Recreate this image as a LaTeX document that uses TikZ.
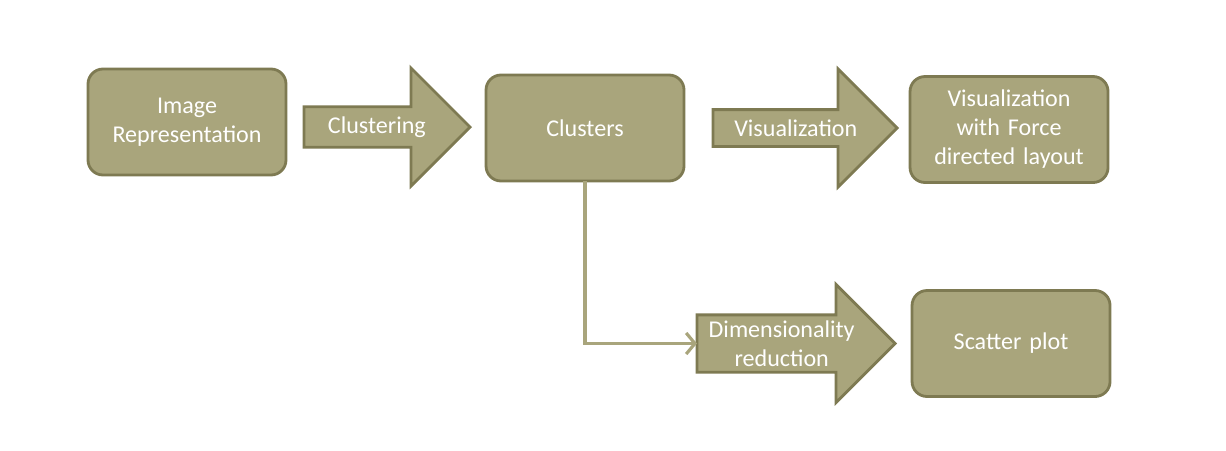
\documentclass[tikz,border=0pt]{standalone}
\usepackage{fontspec}
\setmainfont{Carlito}
\usetikzlibrary{positioning,shapes.arrows,arrows.meta}

\definecolor{olivefill}{HTML}{A9A57C}
\definecolor{oliveline}{HTML}{7E7A52}

\begin{document}
\begin{tikzpicture}[node distance = 0.36cm, auto,
  font=\fontsize{13.7}{16.5}\selectfont,
  stagebox/.style={rectangle, draw=oliveline, fill=olivefill, line width=1.6pt, outer sep=0pt, text=white, text width=3.6cm, align=center, rounded corners=0.3cm, minimum width=3.96cm, minimum height=2.12cm},
  stepper/.style={single arrow, draw=oliveline, fill=olivefill, line width=1.6pt, outer sep=0pt, text=white, align=center, single arrow head extend=0.59cm, single arrow tip angle=90, minimum width=2.36cm, inner sep=2pt}]
\useasboundingbox (0,0) rectangle (24.52,-9);

\node [stagebox] (image) at (3.74,-2.44) {Image\\ Representation};
\node [stepper, right=0.36cm of image, yshift=-0.1cm, minimum height=3.32cm] (clustering) {Clustering};
\node [stagebox, right=0.32cm of clustering, yshift=-0.02cm] (clusters) {Clusters};
\node [stepper, right=0.58cm of clusters, minimum height=3.68cm] (visualization) {Visualization};
\node [stagebox, right=0.26cm of visualization, yshift=-0.03cm] (force) {Visualization\\ with Force\\ directed layout};
\node [stagebox, below=2.16cm of force, xshift=0.04cm] (scatter) {Scatter plot};
\node [stepper, left=0.34cm of scatter, minimum height=3.96cm] (reduction) {Dimensionality\\ reduction};

\draw [line width=1.8pt, olivefill, -{Straight Barb[length=5pt, width=12pt, line width=1.8pt]}] (clusters.south) |- (reduction.west);

\end{tikzpicture}
\end{document}
